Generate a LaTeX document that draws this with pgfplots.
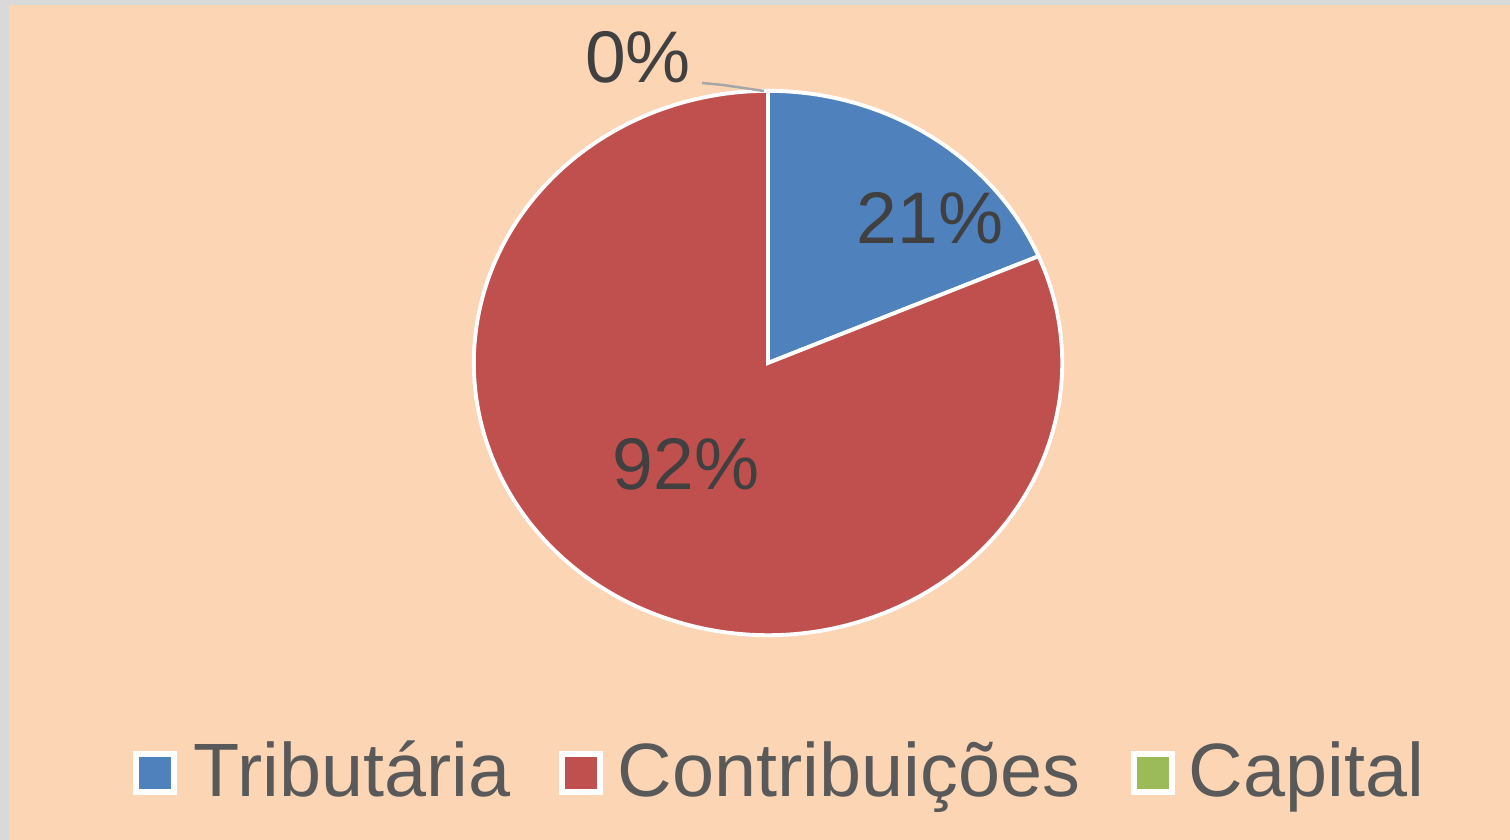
\documentclass[border=0pt]{standalone}
\usepackage{pgfplots}
\pgfplotsset{compat=1.18}
\usepackage{pgfplotstable}
\usepackage{fontspec}
\setmainfont{Liberation Sans}
\definecolor{bg}{HTML}{FCD5B5}
\definecolor{frame}{HTML}{D9D9D9}
\definecolor{pieblue}{HTML}{4F81BD}
\definecolor{piered}{HTML}{C0504D}
\definecolor{piegreen}{HTML}{9BBB59}
\definecolor{lbl}{HTML}{404040}
\definecolor{legtext}{HTML}{595959}
\definecolor{leader}{HTML}{A6A6A6}

\pgfplotstableread{
cat value
Tributaria 21
Contribuicoes 92
Capital 0
}\piedata

\begin{document}%
\begin{tikzpicture}
\pgfplotstablegetelem{0}{value}\of\piedata\let\va\pgfplotsretval%
\pgfplotstablegetelem{1}{value}\of\piedata\let\vb\pgfplotsretval%
\pgfplotstablegetelem{2}{value}\of\piedata\let\vc\pgfplotsretval%
\pgfmathsetmacro\total{\va+\vb+\vc}%
\pgfmathsetmacro\aA{90-\va/\total*360}%
\pgfmathsetmacro\aB{\aA-\vb/\total*360}%
\begin{axis}[x=0.01cm, y=0.01cm, xmin=0, xmax=1510, ymin=0, ymax=840,
  hide axis, clip=false, scale only axis]
  \fill[frame] (axis cs:0,0) rectangle (axis cs:1510,840);
  \fill[bg] (axis cs:9,0) rectangle (axis cs:1510,835);
  % pie slices (start at top, clockwise)
  \filldraw[fill=pieblue, draw=white, line width=1.1pt, line join=miter]
    (axis cs:768,477) -- ++(90:2.94cm and 2.72cm)
    arc[start angle=90, end angle=\aA, x radius=2.94cm, y radius=2.72cm] -- cycle;
  \filldraw[fill=piered, draw=white, line width=1.1pt, line join=miter]
    (axis cs:768,477) -- ++(\aA:2.94cm and 2.72cm)
    arc[start angle=\aA, end angle=\aB, x radius=2.94cm, y radius=2.72cm] -- cycle;
  % leader line for the 0% slice
  \draw[leader, line width=0.7pt] (axis cs:702,757) -- (axis cs:723,755) -- (axis cs:764,749);
  % data labels
  \node[anchor=base, text=lbl, inner sep=0pt, font=\fontsize{20.8}{24}\selectfont] at (axis cs:930,596) {21\%};
  \node[anchor=base, text=lbl, inner sep=0pt, font=\fontsize{20.8}{24}\selectfont] at (axis cs:686,350) {92\%};
  \node[anchor=base, text=lbl, inner sep=0pt, font=\fontsize{20.8}{24}\selectfont] at (axis cs:638,757) {0\%};
  % legend
  \filldraw[fill=pieblue, draw=white, line width=0.06cm] (axis cs:136,48) rectangle (axis cs:174,86);
  \filldraw[fill=piered, draw=white, line width=0.06cm] (axis cs:562,48) rectangle (axis cs:600,86);
  \filldraw[fill=piegreen, draw=white, line width=0.06cm] (axis cs:1134,48) rectangle (axis cs:1172,86);
  \node[anchor=base west, text=legtext, inner sep=0pt, font=\fontsize{21.5}{25}\selectfont] at (axis cs:193,43) {Tributária};
  \node[anchor=base west, text=legtext, inner sep=0pt, font=\fontsize{21.5}{25}\selectfont] at (axis cs:617,43) {Contribuições};
  \node[anchor=base west, text=legtext, inner sep=0pt, font=\fontsize{21.5}{25}\selectfont] at (axis cs:1188,43) {Capital};
\end{axis}
\end{tikzpicture}%
\end{document}
